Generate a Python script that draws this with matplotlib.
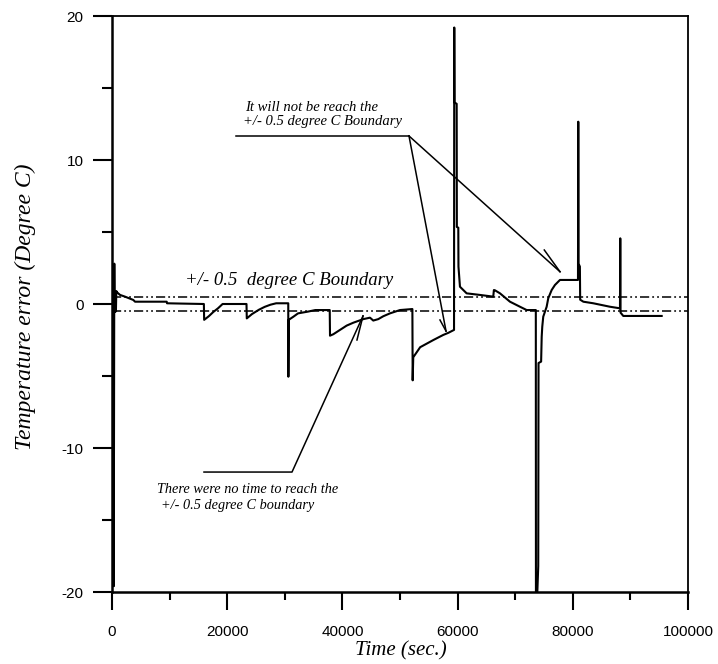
import matplotlib.pyplot as plt
from matplotlib.ticker import MultipleLocator

plt.rcParams['axes.unicode_minus'] = False

# temperature error trace (time in s, error in deg C)
time_s = [100, 300, 400, 450, 520, 570, 620, 680, 750, 900,
          1400, 2260, 3700, 4000, 9500, 9550, 12000, 15950,
          16000, 16800, 17600, 18400, 19200, 23350,
          23400, 24300, 25500, 26500, 27500, 28500, 30600,
          30620, 30680, 31500, 32300, 34000, 35300, 37800,
          37850, 38420, 39580, 40740, 41890, 43630, 44790, 45360, 46230, 47100,
          48260, 50000, 52150,
          52200, 52300, 53500, 55800, 57500, 58400, 59380,
          59420, 59460, 59840, 59870, 60120, 60150, 60410, 61570, 63880, 66190,
          66300, 66490, 67360, 69090, 70830, 71990, 73580,
          73600, 73800, 74000, 74050, 74500, 74600, 74700, 74870, 75460, 75740,
          76330, 76900, 77770, 80900,
          80950, 81000, 81230, 81280, 81830, 83560, 86450, 88190,
          88240, 88290, 88500, 88760, 95430]
temp_err = [0.0, -19.6, 2.8, -0.55, 0.85, -0.55, 0.8, -0.5, 0.9, 0.8,
            0.63, 0.51, 0.28, 0.16, 0.16, 0.05, 0.03, 0.0,
            -1.1, -0.85, -0.55, -0.3, 0.0, 0.0,
            -1.0, -0.7, -0.4, -0.2, -0.05, 0.05, 0.05,
            -5.05, -1.1, -0.88, -0.65, -0.53, -0.42, -0.42,
            -2.2, -2.1, -1.8, -1.5, -1.3, -1.05, -0.95, -1.15, -1.05, -0.85,
            -0.65, -0.42, -0.35,
            -5.3, -3.7, -3.0, -2.5, -2.15, -2.0, -1.8,
            19.2, 14.0, 13.9, 5.35, 5.3, 2.6, 1.2, 0.74, 0.63, 0.51,
            0.97, 0.95, 0.74, 0.16, -0.19, -0.42, -0.42,
            -20.5, -20.5, -18.2, -4.1, -4.0, -2.27, -1.57, -0.88, -0.19, 0.4,
            0.97, 1.32, 1.67, 1.67,
            12.66, 2.8, 2.6, 0.3, 0.16, 0.05, -0.19, -0.3,
            4.56, -0.6, -0.7, -0.83, -0.83]

band = [-0.5, 0.5]

# leader lines of the two notes
top_lead_x = [21530, 51560]
top_lead_y = [11.67, 11.67]
top_arrows = [([51560, 57990], [11.67, -1.88], [56940, 57990], [-1.11, -1.88]),
              ([51560, 77780], [11.67, 2.24], [75050, 77780], [3.75, 2.24])]
bot_lead_x = [15970, 31250, 43580]
bot_lead_y = [-11.67, -11.67, -0.83]
bot_barb_x = [42530, 43580]
bot_barb_y = [-2.5, -0.83]

serif = ['Liberation Serif', 'DejaVu Serif']

fig = plt.figure(figsize=(7.18, 6.64), dpi=100)
ax = fig.add_axes([112 / 718, 1 - 592 / 664, 576 / 718, 576 / 664])

ax.plot(time_s, temp_err, color='k', lw=1.5)

for b in band:
    ax.axhline(b, color='k', lw=1.1, ls=(0, (6, 2, 1.2, 2, 1.2, 2)))

ax.plot(top_lead_x, top_lead_y, color='k', lw=1.1)
for sx, sy, bx, by in top_arrows:
    ax.plot(sx, sy, color='k', lw=1.1)
    ax.plot(bx, by, color='k', lw=1.1)
ax.plot(bot_lead_x, bot_lead_y, color='k', lw=1.1)
ax.plot(bot_barb_x, bot_barb_y, color='k', lw=1.1)

ax.text(12670, 1.32, '+/- 0.5  degree C Boundary', family=serif,
        style='italic', fontsize=13.5, va='baseline')
ax.text(23090, 13.4, 'It will not be reach the', family=serif,
        style='italic', fontsize=10.5, va='baseline')
ax.text(22740, 12.4, '+/- 0.5 degree C Boundary', family=serif,
        style='italic', fontsize=10.5, va='baseline')
ax.text(7810, -13.15, 'There were no time to reach the', family=serif,
        style='italic', fontsize=10.3, va='baseline')
ax.text(8510, -14.25, '+/- 0.5 degree C boundary', family=serif,
        style='italic', fontsize=10.3, va='baseline')

ax.set_xlim(0, 100000)
ax.set_ylim(-20, 20)
ax.xaxis.set_major_locator(MultipleLocator(20000))
ax.xaxis.set_minor_locator(MultipleLocator(10000))
ax.yaxis.set_major_locator(MultipleLocator(10))
ax.yaxis.set_minor_locator(MultipleLocator(5))

for lab in ax.get_xticklabels() + ax.get_yticklabels():
    lab.set_family('Liberation Sans')
ax.tick_params(axis='x', which='major', direction='out', length=13, width=1.5,
               labelsize=11, pad=11)
ax.tick_params(axis='x', which='minor', direction='out', length=6, width=1.5)
ax.tick_params(axis='y', which='major', direction='out', length=13.5, width=1.5,
               labelsize=11, pad=7)
ax.tick_params(axis='y', which='minor', direction='out', length=7, width=1.5)

for side in ['left', 'bottom']:
    ax.spines[side].set_linewidth(1.8)
for side in ['top', 'right']:
    ax.spines[side].set_linewidth(1.3)

fig.text(401 / 718, 1 - 651 / 664, 'Time (sec.)', family=serif, style='italic',
         fontsize=15, ha='center', va='center')
fig.text(25 / 718, 1 - 307 / 664, 'Temperature error (Degree C)', family=serif,
         style='italic', fontsize=17, rotation=90, ha='center', va='center')

fig.savefig('out.png', dpi=100)
